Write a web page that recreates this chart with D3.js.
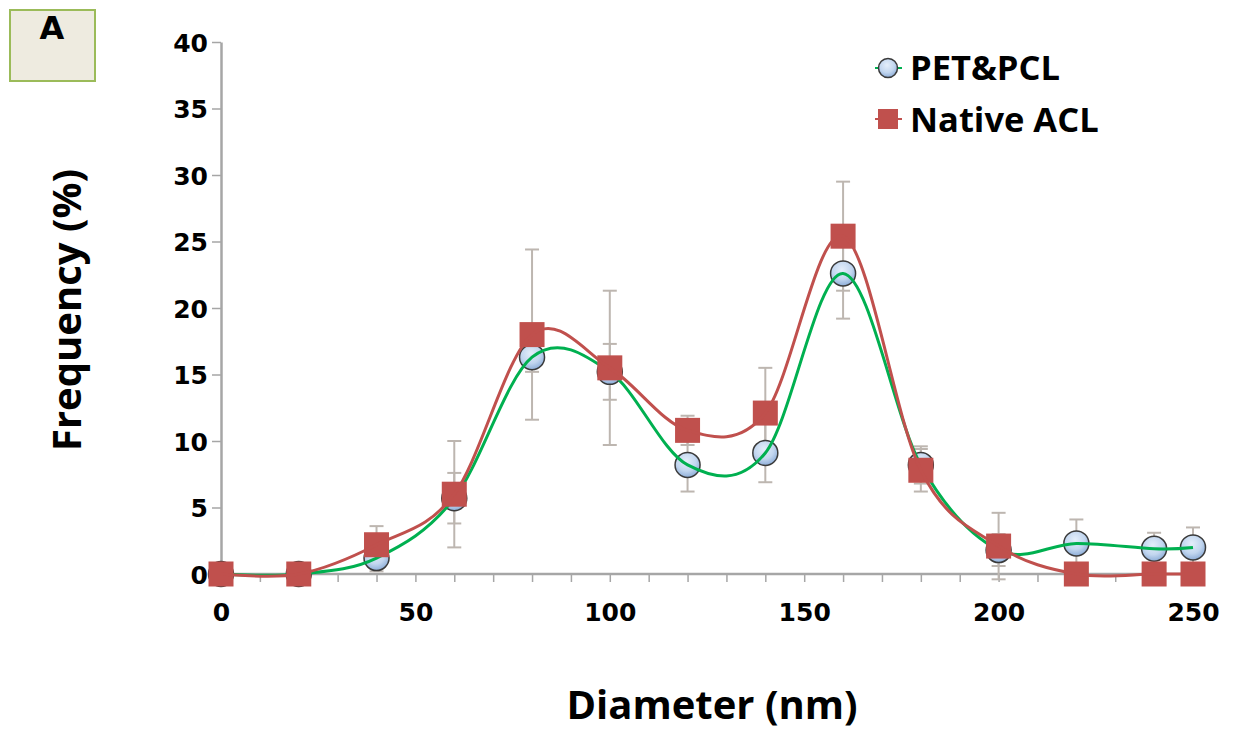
<!DOCTYPE html>
<html>
<head>
<meta charset="utf-8">
<script src="https://cdn.jsdelivr.net/npm/d3@7"></script>
<style>
  body { margin: 0; background: #fff; }
  svg { display: block; }
</style>
</head>
<body>
<div id="vis"></div>
<script>
// data
var diameters = [0, 20, 40, 60, 80, 100, 120, 140, 160, 180, 200, 220, 240, 250];
var petPcl    = [0, 0, 1.2, 5.7, 16.3, 15.2, 8.2, 9.1, 22.6, 8.2, 1.8, 2.3, 1.9, 2.0];
var petPclErr = [0, 0.3, 1.0, 1.9, 1.1, 2.1, 2.0, 2.2, 3.4, 1.4, 1.2, 1.8, 1.2, 1.5];
var nativeAcl    = [0, 0, 2.2, 6.0, 18.0, 15.5, 10.8, 12.1, 25.4, 7.8, 2.1, 0, 0, 0];
var nativeAclErr = [0.2, 0, 1.4, 4.0, 6.4, 5.8, 1.1, 3.4, 4.1, 1.6, 2.5, 0, 0, 0];
var yTicks = [0, 5, 10, 15, 20, 25, 30, 35, 40];
var xTicks = [0, 10, 20, 30, 40, 50, 60, 70, 80, 90, 100, 110, 120, 130, 140, 150,
              160, 170, 180, 190, 200, 210, 220, 230, 240, 250];
var xLabels = [0, 50, 100, 150, 200, 250];

var width = 1233;
var height = 731;

var green = '#00b050';
var red = '#c0504d';
var axisGrey = '#a6a6a6';
var errGrey = '#bdb6b0';

var svg = d3.select('#vis').append('svg')
  .attr('width', width)
  .attr('height', height);

var defs = svg.append('defs');
var grad = defs.append('radialGradient')
  .attr('id', 'bubbleFill')
  .attr('cx', '45%').attr('cy', '35%').attr('r', '65%');
grad.append('stop').attr('offset', '0%').attr('stop-color', '#e4eefa');
grad.append('stop').attr('offset', '60%').attr('stop-color', '#c2d6ef');
grad.append('stop').attr('offset', '100%').attr('stop-color', '#8eaed8');

var x = d3.scaleLinear().domain([0, 250]).range([221, 1193]);
var y = d3.scaleLinear().domain([0, 40]).range([574, 42]);

// panel letter box
svg.append('rect')
  .attr('x', 10).attr('y', 10)
  .attr('width', 85).attr('height', 71)
  .attr('fill', '#eeebe0')
  .attr('stroke', '#9bbb59')
  .attr('stroke-width', 2);
svg.append('text')
  .attr('x', 52).attr('y', 39)
  .attr('text-anchor', 'middle')
  .style('font-family', 'DejaVu Sans, Verdana, sans-serif')
  .style('font-weight', 'bold')
  .style('font-size', '32px')
  .text('A');

// axes
var xAxis = d3.axisBottom(x)
  .tickValues(xTicks)
  .tickSize(8)
  .tickSizeOuter(0)
  .tickFormat(function (d) { return xLabels.indexOf(d) >= 0 ? d : ''; });

var yAxis = d3.axisLeft(y)
  .tickValues(yTicks)
  .tickSize(9)
  .tickSizeOuter(0);

var gx = svg.append('g')
  .attr('transform', 'translate(0,' + y(0) + ')')
  .call(xAxis);

var gy = svg.append('g')
  .attr('transform', 'translate(' + x(0) + ',0)')
  .call(yAxis);

[gx, gy].forEach(function (g) {
  g.select('.domain').attr('stroke', axisGrey).attr('stroke-width', 2.5);
  g.selectAll('.tick line').attr('stroke', axisGrey).attr('stroke-width', 1.5);
  g.selectAll('.tick text')
    .style('font-family', 'DejaVu Sans, Verdana, sans-serif')
    .style('font-weight', 'bold')
    .style('font-size', '25px')
    .attr('fill', '#000');
});
gx.select('.domain').attr('d', 'M' + x(0) + ',0H' + (x(250) + 12));
gx.selectAll('.tick text').attr('y', 47).attr('dy', 0);
gy.selectAll('.tick text').attr('x', -13).attr('dy', '0.36em');

// axis titles
svg.append('text')
  .attr('transform', 'translate(81,' + 310 + ') rotate(-90)')
  .attr('text-anchor', 'middle')
  .style('font-family', 'Open Sans, sans-serif')
  .style('font-weight', 'bold')
  .style('font-size', '40px')
  .text('Frequency (%)');

svg.append('text')
  .attr('x', 712).attr('y', 719)
  .attr('text-anchor', 'middle')
  .style('font-family', 'Open Sans, sans-serif')
  .style('font-weight', 'bold')
  .style('font-size', '40px')
  .text('Diameter (nm)');

// error bars
function drawErrors(vals, errs) {
  var g = svg.append('g');
  diameters.forEach(function (d, i) {
    if (!errs[i]) return;
    var cx = x(d);
    var top = y(vals[i] + errs[i]);
    var bot = y(vals[i] - errs[i]);
    g.append('line')
      .attr('x1', cx).attr('x2', cx)
      .attr('y1', top).attr('y2', bot)
      .attr('stroke', errGrey).attr('stroke-width', 2);
    [top, bot].forEach(function (yy) {
      g.append('line')
        .attr('x1', cx - 7).attr('x2', cx + 7)
        .attr('y1', yy).attr('y2', yy)
        .attr('stroke', errGrey).attr('stroke-width', 2);
    });
  });
}
drawErrors(nativeAcl, nativeAclErr);
drawErrors(petPcl, petPclErr);

var line = d3.line()
  .x(function (d) { return x(d[0]); })
  .y(function (d) { return y(d[1]); })
  .curve(d3.curveCardinal.tension(0));

var petPts = diameters.map(function (d, i) { return [d, petPcl[i]]; });
var nativePts = diameters.map(function (d, i) { return [d, nativeAcl[i]]; });

// PET&PCL markers
svg.append('g').selectAll('circle')
  .data(petPts)
  .enter().append('circle')
  .attr('cx', function (d) { return x(d[0]); })
  .attr('cy', function (d) { return y(d[1]); })
  .attr('r', 12.5)
  .attr('fill', 'url(#bubbleFill)')
  .attr('stroke', '#3a3a3a')
  .attr('stroke-width', 1.5);

svg.append('path')
  .datum(petPts)
  .attr('d', line)
  .attr('fill', 'none')
  .attr('stroke', green)
  .attr('stroke-width', 3);

// Native ACL markers
svg.append('g').selectAll('rect')
  .data(nativePts)
  .enter().append('rect')
  .attr('x', function (d) { return x(d[0]) - 12.5; })
  .attr('y', function (d) { return y(d[1]) - 12.5; })
  .attr('width', 25)
  .attr('height', 25)
  .attr('fill', red);

svg.append('path')
  .datum(nativePts)
  .attr('d', line)
  .attr('fill', 'none')
  .attr('stroke', red)
  .attr('stroke-width', 3);

// legend
var legend = svg.append('g');
legend.append('line')
  .attr('x1', 875).attr('x2', 902).attr('y1', 68).attr('y2', 68)
  .attr('stroke', green).attr('stroke-width', 2);
legend.append('circle')
  .attr('cx', 888).attr('cy', 68).attr('r', 9.5)
  .attr('fill', 'url(#bubbleFill)')
  .attr('stroke', '#3a3a3a').attr('stroke-width', 1.5);
legend.append('line')
  .attr('x1', 875).attr('x2', 902).attr('y1', 119).attr('y2', 119)
  .attr('stroke', red).attr('stroke-width', 2);
legend.append('rect')
  .attr('x', 878).attr('y', 109).attr('width', 20).attr('height', 20)
  .attr('fill', red);

legend.selectAll('text')
  .data(['PET&PCL', 'Native ACL'])
  .enter().append('text')
  .attr('x', 910)
  .attr('y', function (d, i) { return 80 + i * 52; })
  .style('font-family', 'Open Sans, sans-serif')
  .style('font-weight', 'bold')
  .style('font-size', '34.5px')
  .text(function (d) { return d; });
</script>
</body>
</html>
